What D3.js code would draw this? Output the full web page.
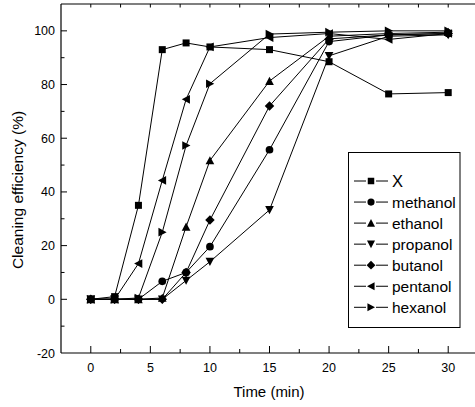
<!DOCTYPE html>
<html><head><meta charset="utf-8">
<script src="https://cdn.jsdelivr.net/npm/d3@7"></script>
<style>
html,body{margin:0;padding:0;background:#fff;}
svg{display:block;font-family:"Liberation Sans",Arial,sans-serif;}
</style></head>
<body><svg id="c" width="475" height="407"></svg>
<script>
const time = [0, 2, 4, 6, 8, 10, 15, 20, 25, 30];
const seriesNames = ["X", "methanol", "ethanol", "propanol", "butanol", "pentanol", "hexanol"];
const X        = [0, 1, 35, 93, 95.5, 94, 93, 88.5, 76.5, 77];
const methanol = [0, 0, 0, 6.7, 10, 19.6, 55.7, 96, 98.5, 99];
const ethanol  = [0, 0, 0, 0.5, 27, 51.7, 81.3, 98, 99, 99.5];
const propanol = [0, 0, 0, 0, 7, 14, 33.3, 90.7, 98, 98.5];
const butanol  = [0, 0, 0, 0, 10, 29.5, 72, 97, 98.5, 99];
const pentanol = [0, 0, 13.3, 44.3, 74.5, 94, 97.5, 99, 96.8, 99];
const hexanol  = [0, 0, 0.5, 25, 57.3, 80.3, 98.8, 99.5, 100, 100];
const xTicks = [0, 5, 10, 15, 20, 25, 30];
const yTicks = [-20, 0, 20, 40, 60, 80, 100];

const values = [X, methanol, ethanol, propanol, butanol, pentanol, hexanol];
const shapes = ["square", "circle", "up", "down", "diamond", "left", "right"];

const svg = d3.select("#c");
const L = 61, T = 4, R = 478, B = 353;
const x = d3.scaleLinear().domain([-2.5, 32.5]).range([L, R]);
const y = d3.scaleLinear().domain([-20, 110]).range([B, T]);

function markerPath(shape, s) {
  const p = d3.path();
  if (shape === "square") { p.rect(-s*0.5, -s*0.5, s, s); }
  else if (shape === "circle") { p.arc(0, 0, s*0.55, 0, 2*Math.PI); }
  else if (shape === "diamond") { const r = s*0.68; p.moveTo(0,-r); p.lineTo(r,0); p.lineTo(0,r); p.lineTo(-r,0); p.closePath(); }
  else {
    const a = s*0.62, b = s*0.55;
    let pts;
    if (shape === "up") pts = [[0,-a],[a,b],[-a,b]];
    else if (shape === "down") pts = [[0,a],[a,-b],[-a,-b]];
    else if (shape === "left") pts = [[-a,0],[b,-a],[b,a]];
    else pts = [[a,0],[-b,-a],[-b,a]];
    p.moveTo(pts[0][0],pts[0][1]); p.lineTo(pts[1][0],pts[1][1]); p.lineTo(pts[2][0],pts[2][1]); p.closePath();
  }
  return p.toString();
}

// axes frame
const g = svg.append("g");
g.append("line").attr("x1", L).attr("x2", L).attr("y1", T).attr("y2", B).attr("stroke", "#000").attr("stroke-width", 1.2);
g.append("line").attr("x1", L).attr("x2", R).attr("y1", B).attr("y2", B).attr("stroke", "#000").attr("stroke-width", 1.2);
g.append("line").attr("x1", L).attr("x2", R).attr("y1", T).attr("y2", T).attr("stroke", "#000").attr("stroke-width", 1.2);

// bottom axis ticks (inward)
const xMinor = d3.range(-2.5, 32.6, 2.5);
xMinor.forEach(v => {
  const major = xTicks.includes(v);
  const xx = x(v);
  if (v > -2.5) {
    g.append("line").attr("x1", xx).attr("x2", xx).attr("y1", B).attr("y2", B - (major ? 7 : 4)).attr("stroke", "#000");
    g.append("line").attr("x1", xx).attr("x2", xx).attr("y1", T).attr("y2", T + 3.5).attr("stroke", "#000");
  }
});
xTicks.forEach(v => {
  g.append("text").attr("x", x(v)).attr("y", B + 19).attr("text-anchor", "middle").attr("font-size", 12.5).text(v);
});
// left axis ticks
d3.range(-20, 110, 10).forEach(v => {
  const major = yTicks.includes(v);
  if (v > -20) g.append("line").attr("x1", L).attr("x2", L + (major ? 6 : 3.5)).attr("y1", y(v)).attr("y2", y(v)).attr("stroke", "#000");
});
yTicks.forEach(v => {
  g.append("text").attr("x", L - 6).attr("y", y(v) + 4.5).attr("text-anchor", "end").attr("font-size", 12.5).text(v);
});

// titles
svg.append("text").attr("x", 269).attr("y", 397).attr("text-anchor", "middle").attr("font-size", 15).text("Time (min)");
svg.append("text").attr("transform", "translate(23,190) rotate(-90)").attr("text-anchor", "middle").attr("font-size", 15.5).text("Cleaning efficiency (%)");

// series
const line = d3.line().x((d, i) => x(time[i])).y(d => y(d));
values.forEach((vals, k) => {
  svg.append("path").attr("d", line(vals)).attr("fill", "none").attr("stroke", "#000").attr("stroke-width", 1);
});
values.forEach((vals, k) => {
  svg.append("g").selectAll("path").data(vals).join("path")
    .attr("transform", (d, i) => `translate(${x(time[i])},${y(d)})`)
    .attr("d", markerPath(shapes[k], 7))
    .attr("fill", "#000");
});

// legend
const lg = svg.append("g");
lg.append("rect").attr("x", 348.5).attr("y", 152.5).attr("width", 111.5).attr("height", 175).attr("fill", "#fff").attr("stroke", "#000").attr("stroke-width", 1);
seriesNames.forEach((name, k) => {
  const yy = 181 + k * 21.05;
  lg.append("line").attr("x1", 354).attr("x2", 366).attr("y1", yy).attr("y2", yy).attr("stroke", "#000");
  lg.append("line").attr("x1", 376).attr("x2", 388).attr("y1", yy).attr("y2", yy).attr("stroke", "#000");
  lg.append("path").attr("transform", `translate(371,${yy})`).attr("d", markerPath(shapes[k], 6.5)).attr("fill", "#000");
  lg.append("text").attr("x", 392).attr("y", yy + 5.5).attr("font-size", k === 0 ? 16.5 : 15.5).text(name);
});
</script>
</body></html>
